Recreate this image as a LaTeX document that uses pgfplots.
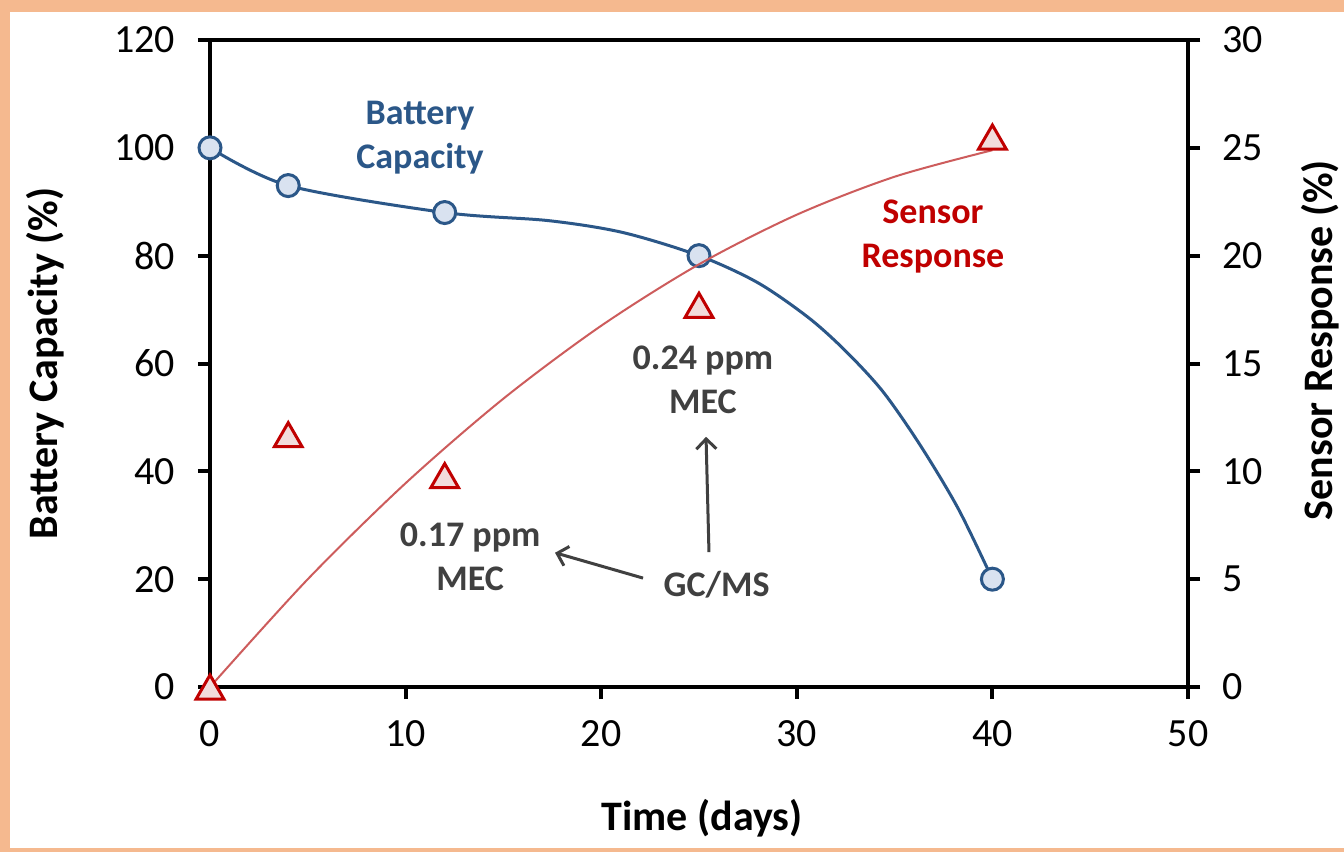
\documentclass[border=0pt]{standalone}
\usepackage{pgfplots}
\pgfplotsset{compat=1.18}
\usepackage{fontspec}
\setmainfont{Carlito}
\usetikzlibrary{arrows.meta}
\definecolor{frameor}{HTML}{F5B98F}
\definecolor{bblue}{HTML}{2B5788}
\definecolor{bfill}{HTML}{D9E2F0}
\definecolor{rdark}{HTML}{C00000}
\definecolor{rline}{HTML}{CD5C5C}
\definecolor{rfill}{HTML}{F2DCDB}
\definecolor{txtgray}{HTML}{404040}
\pgfplotstableread{
x y
0 100
4 93
12 88
25 80
40 20
}\battery
\pgfplotstableread{
x y
0 100
4 93
12 88
17.3 86.5
21.1 84.3
25 80
28 75
30.6 68.5
32.5 62.3
34.4 54.8
36.3 44.9
38.25 33.1
40 20
}\batteryline
\pgfplotstableread{
x y
0 0
4 11.7
12 9.8
25 17.7
40 25.5
}\sensor
\pgfplotstableread{
x y
0 0
5 5.0
10 9.45
15 13.37
20 16.75
25 19.6
30 21.9
35 23.66
40 24.89
}\sensorfit
\begin{document}
\begin{tikzpicture}
\useasboundingbox (-105pt,-82.5pt) rectangle (567pt,343.5pt);
\clip (-105pt,-82.5pt) rectangle (567pt,343.5pt);
\fill[frameor] (-105pt,-82.5pt) rectangle (567pt,343.5pt);
\fill[white] (-100pt,-80.5pt) rectangle (580pt,337.5pt);
\begin{axis}[
  at={(0,0)}, anchor=south west,
  scale only axis, width=489pt, height=323.5pt,
  xmin=0, xmax=50, ymin=0, ymax=120,
  xtick={0,10,...,50}, ytick={0,20,...,120},
  xtick pos=bottom, ytick pos=left,
  tick align=outside, major tick length=6pt,
  axis line style={line width=2pt},
  every tick/.style={line width=2pt, black},
  ticklabel style={font=\fontsize{20}{24}\selectfont},
  xticklabel style={yshift=-7pt},
  yticklabel style={xshift=-8pt},
  /pgf/number format/assume math mode=true,
  clip=false,
]
\addplot[bblue, line width=1.5pt, smooth, no marks] table {\batteryline};
\addplot[only marks, mark=*, mark size=5.5pt,
  mark options={fill=bfill, draw=bblue, line width=1.5pt}] table {\battery};
\node[bblue, font=\fontsize{18}{22}\bfseries, align=center] at (axis cs:10.74,101.9) {Battery\\Capacity};
\node[rdark, font=\fontsize{18}{22}\bfseries, align=center] at (axis cs:36.96,83.5) {Sensor\\Response};
\node[txtgray, font=\fontsize{18}{22}\bfseries, align=center] at (axis cs:25.2,57) {0.24 ppm\\MEC};
\node[txtgray, font=\fontsize{18}{22}\bfseries, align=center] at (axis cs:13.3,24.1) {0.17 ppm\\MEC};
\node[txtgray, font=\fontsize{18}{22}\bfseries] at (axis cs:25.9,18.9) {GC/MS};
\draw[txtgray, line width=1.5pt, -{Straight Barb[length=5pt,width=10pt]}] (axis cs:25.51,25.0) -- (axis cs:25.36,46.4);
\draw[txtgray, line width=1.5pt, -{Straight Barb[length=5pt,width=10pt]}] (axis cs:22.14,20.2) -- (axis cs:17.64,24.9);
\end{axis}
\begin{axis}[
  at={(0,0)}, anchor=south west,
  scale only axis, width=489pt, height=323.5pt,
  xmin=0, xmax=50, ymin=0, ymax=30,
  ytick={0,5,...,30},
  axis y line*=right, axis x line=none,
  tick align=outside, major tick length=6pt,
  axis line style={line width=2pt},
  every tick/.style={line width=2pt, black},
  ticklabel style={font=\fontsize{20}{24}\selectfont},
  yticklabel style={xshift=7.5pt},
  /pgf/number format/assume math mode=true,
  clip=false,
]
\addplot[rline, line width=1pt, smooth] table {\sensorfit};
\addplot[only marks, mark=triangle*, mark size=8pt,
  mark options={fill=rfill, draw=rdark, line width=1.5pt, yshift=-2pt}] table {\sensor};
\end{axis}
\node[font=\fontsize{21}{25}\bfseries, rotate=90] at (-82.5pt,161.75pt) {Battery Capacity (\%)};
\node[font=\fontsize{21}{25}\bfseries, rotate=90] at (555pt,173.5pt) {Sensor Response (\%)};
\node[font=\fontsize{21}{25}\bfseries] at (246pt,-65.5pt) {Time (days)};
\end{tikzpicture}
\end{document}
